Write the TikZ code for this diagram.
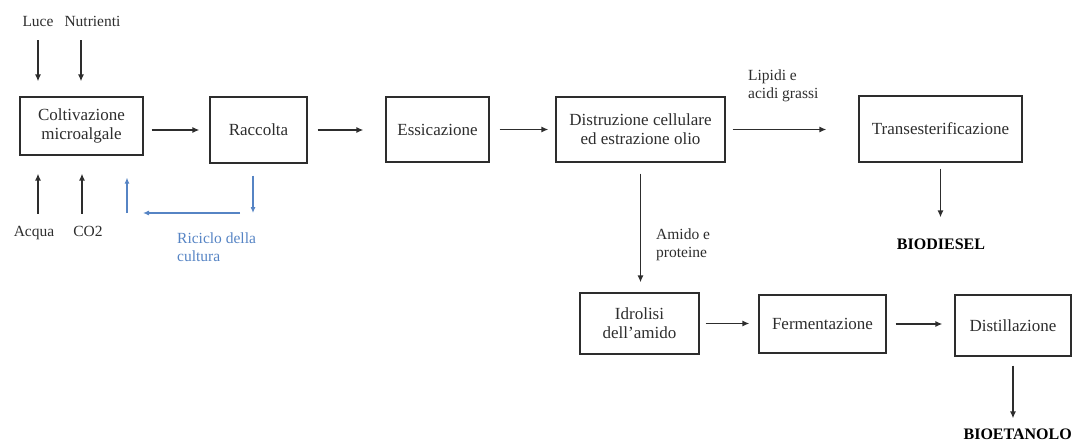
\documentclass[tikz,border=0pt]{standalone}
\usepackage{fontspec}
\setmainfont{Liberation Serif}
\usetikzlibrary{arrows.meta}
\definecolor{tratto}{RGB}{45,45,45}
\definecolor{riciclo}{RGB}{86,132,196}
\tikzset{
  box/.style = {draw = tratto, line width = 1.2pt, align = center, text = tratto, inner sep = 2pt, font = \fontsize{17}{19}\selectfont},
  lab/.style = {inner sep = 0pt, align = left, text = tratto, font = \fontsize{15.5}{18}\selectfont},
  prod/.style = {inner sep = 0pt, text = black, font = \fontsize{16}{18}\selectfont\bfseries},
  arr/.style = {-{Latex[length = 7pt, width = 6pt]}, line width = 1.6pt, draw = tratto},
  ric/.style = {-{Latex[length = 6pt, width = 5pt]}, line width = 1.1pt, draw = riciclo}
}

\begin{document}
\begin{tikzpicture}[x = 1pt, y = -1pt]
\useasboundingbox (0,0) rectangle (1073,441);
\node[box, minimum width = 123pt, minimum height = 58pt] (colt) at (81.5,126) {Coltivazione\\microalgale};
\node[box, minimum width = 97pt, minimum height = 66pt] (racc) at (258.5,130) {Raccolta};
\node[box, minimum width = 103pt, minimum height = 65pt] (essic) at (437.5,129.5) {Essicazione};
\node[box, minimum width = 169pt, minimum height = 65pt] (distr) at (640.5,129.5) {Distruzione cellulare\\ed estrazione olio};
\node[box, minimum width = 163pt, minimum height = 66pt] (trans) at (940.5,129) {Transesterificazione};
\node[box, minimum width = 119pt, minimum height = 61pt] (idro) at (639.5,323.5) {Idrolisi\\dell'amido};
\node[box, minimum width = 127pt, minimum height = 58pt] (ferm) at (822.5,324) {Fermentazione};
\node[box, minimum width = 116pt, minimum height = 61pt] (dist) at (1013,325.5) {Distillazione};
\node[prod] (biodiesel) at (941,244) {BIODIESEL};
\node[prod, anchor = east] (bioet) at (1072,434) {BIOETANOLO};

\node[lab, anchor = base] (luce) at (38,27) {Luce};
\node[lab, anchor = base] (nutr) at (92.5,27) {Nutrienti};
\node[lab, anchor = base] (acqua) at (34,236) {Acqua};
\node[lab, anchor = base] (co2) at (88,236) {CO2};
\node[lab, anchor = west] (lipidi) at (748,86) {Lipidi e\\acidi grassi};
\node[lab, anchor = west] (amido) at (656,245) {Amido e\\proteine};
\node[lab, anchor = west, text = riciclo] (riciclo) at (177,247) {Riciclo della\\cultura};

\draw[arr, shorten <= 13pt, shorten >= 15pt] (luce.south) -- (luce.south |- colt.north);
\draw[arr, shorten <= 13pt, shorten >= 15pt] ([xshift = -11.5pt]nutr.south) -- ([xshift = -11.5pt]nutr.south |- colt.north);
\draw[arr, shorten <= 12pt, shorten >= 18pt] ([xshift = 4pt]acqua.north) -- ([xshift = 4pt]acqua.north |- colt.south);
\draw[arr, shorten <= 12pt, shorten >= 18pt] ([xshift = -6pt]co2.north) -- ([xshift = -6pt]co2.north |- colt.south);

\coordinate (ricA) at (253,213);
\coordinate (ricB) at (127,213);
\draw[ric, shorten <= 12pt] (racc.south -| ricA) -- (ricA);
\draw[ric, shorten <= 13pt, shorten >= 16pt] (ricA) -- (ricB);
\draw[ric, shorten >= 22pt] (ricB) -- (ricB |- colt.south);

\draw[arr, shorten <= 8pt, shorten >= 10pt] (colt.east |- racc) -- (racc.west);
\draw[arr, shorten <= 10pt, shorten >= 22pt] (racc.east) -- (racc.east -| essic.west);
\draw[arr, shorten <= 10pt, shorten >= 7pt] (essic.east) -- (essic.east -| distr.west);
\draw[arr, shorten <= 7pt, shorten >= 32pt] (distr.east) -- (distr.east -| trans.west);
\draw[arr, shorten <= 11pt, shorten >= 10pt] (distr.south) -- (distr.south |- idro.north);
\draw[arr, shorten <= 6pt, shorten >= 21pt] (trans.south) -- (trans.south |- biodiesel.north);
\draw[arr, shorten <= 6pt, shorten >= 9pt] (idro.east) -- (idro.east -| ferm.west);
\draw[arr, shorten <= 9pt, shorten >= 12pt] (ferm.east) -- (ferm.east -| dist.west);
\draw[arr, shorten <= 9pt, shorten >= 10pt] (dist.south) -- (dist.south |- bioet.north);
\end{tikzpicture}
\end{document}
